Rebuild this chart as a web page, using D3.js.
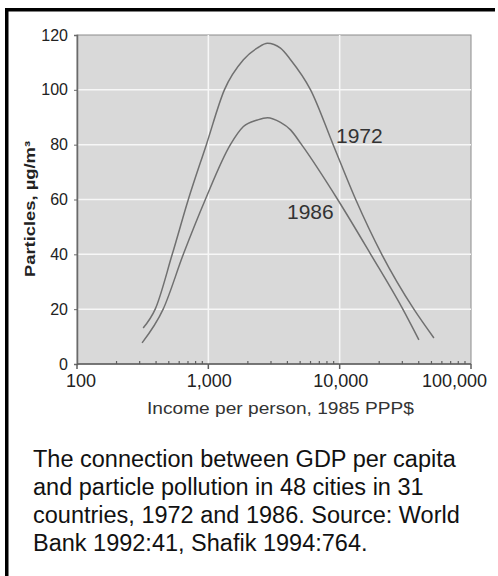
<!DOCTYPE html>
<html>
<head>
<meta charset="utf-8">
<script src="https://cdn.jsdelivr.net/npm/d3@7"></script>
<style>
  body { margin: 0; background: #fff; }
  #chart { width: 498px; height: 576px; }
  text { font-family: "Liberation Sans", Arial, Helvetica, sans-serif; }
</style>
</head>
<body>
<div id="chart"></div>
<script>
// curve readings (income in 1985 PPP$, particles in ug/m3)
const income1972 = [319, 394, 531, 704, 966, 1325, 1850, 2366, 2820, 3544, 4227, 6004, 8920, 13250, 20920, 36720, 52200];
const particles1972 = [13.1, 20, 40, 60, 80, 100, 111, 115.3, 117, 115.2, 111, 100, 80, 60, 40, 20, 9.5];
const income1986 = [313, 453, 645, 949, 1472, 1850, 2366, 2820, 3544, 4227, 5129, 9655, 17240, 30260, 40100];
const particles1986 = [7.7, 20, 40, 60, 80, 86.6, 89, 89.8, 88.1, 85.4, 80, 60, 40, 20, 8.8];

const yTicks = [0, 20, 40, 60, 80, 100, 120];
const xTicks = [100, 1000, 10000, 100000];
const xTickLabels = ['100', '1,000', '10,000', '100,000'];
const captionLines = [
  'The connection between GDP per capita',
  'and particle pollution in 48 cities in 31',
  'countries, 1972 and 1986. Source: World',
  'Bank 1992:41, Shafik 1994:764.'
];

var margin = { top: 35, right: 27, bottom: 212, left: 77 },
    width = 498 - margin.left - margin.right,
    height = 576 - margin.top - margin.bottom;

var svg0 = d3.select('#chart').append('svg')
    .attr('width', 498)
    .attr('height', 576);

// frame: thick line on top and left only
svg0.append('rect').attr('x', 5).attr('y', 8).attr('width', 490).attr('height', 3.5).attr('fill', '#000');
svg0.append('rect').attr('x', 5).attr('y', 8).attr('width', 3.5).attr('height', 568).attr('fill', '#000');

var svg = svg0.append('g')
    .attr('transform', 'translate(' + margin.left + ',' + margin.top + ')');

var x = d3.scaleLog().domain([100, 100000]).range([0, width]);
var y = d3.scaleLinear().domain([0, 120]).range([height, 0]);

// plot background
svg.append('rect')
    .attr('width', width).attr('height', height)
    .attr('fill', '#d9d9d9')
    .attr('stroke', '#8c8c8c').attr('stroke-width', 1);

// white grid
svg.selectAll('.hgrid').data(yTicks.filter(d => d > 0 && d < 120)).enter()
    .append('line')
    .attr('x1', 0).attr('x2', width)
    .attr('y1', d => y(d)).attr('y2', d => y(d))
    .attr('stroke', '#f7f7f7').attr('stroke-width', 1.5);
svg.selectAll('.vgrid').data([1000, 10000]).enter()
    .append('line')
    .attr('x1', d => x(d)).attr('x2', d => x(d))
    .attr('y1', 0).attr('y2', height)
    .attr('stroke', '#f7f7f7').attr('stroke-width', 1.5);

// curves
var line = d3.line()
    .x(d => x(d[0]))
    .y(d => y(d[1]))
    .curve(d3.curveMonotoneX);

svg.append('path')
    .datum(d3.zip(income1972, particles1972))
    .attr('d', line)
    .attr('fill', 'none').attr('stroke', '#707070').attr('stroke-width', 1.5);
svg.append('path')
    .datum(d3.zip(income1986, particles1986))
    .attr('d', line)
    .attr('fill', 'none').attr('stroke', '#707070').attr('stroke-width', 1.5);

svg.append('text').attr('x', 259).attr('y', 108).attr('font-size', 21).attr('fill', '#333').text('1972');
svg.append('text').attr('x', 210).attr('y', 184).attr('font-size', 21).attr('fill', '#333').text('1986');

// y axis
var yAxis = svg.append('g')
    .call(d3.axisLeft(y).tickValues(yTicks).tickSize(3).tickPadding(6));
yAxis.select('.domain').attr('stroke', '#6a6a6a').attr('stroke-width', 1.5);
yAxis.selectAll('.tick line').attr('stroke', '#6a6a6a');
yAxis.selectAll('.tick text').attr('font-size', 16).attr('fill', '#222')
    .style('font-family', '"Liberation Sans", Arial, sans-serif');

// x axis, minor ticks inside, major outside
var minor = [];
for (var dec = 100; dec < 100000; dec *= 10) {
  for (var k = 2; k <= 9; k++) minor.push(dec * k);
}
var xAxis = svg.append('g')
    .attr('transform', 'translate(0,' + height + ')');
xAxis.append('line').attr('x1', 0).attr('x2', width).attr('stroke', '#5e5e5e').attr('stroke-width', 1.5);
xAxis.selectAll('.minor').data(minor).enter()
    .append('line')
    .attr('x1', d => x(d)).attr('x2', d => x(d))
    .attr('y1', 0).attr('y2', -3)
    .attr('stroke', '#5e5e5e').attr('stroke-width', 1.2);
xAxis.selectAll('.major').data(xTicks).enter()
    .append('line')
    .attr('x1', d => x(d)).attr('x2', d => x(d))
    .attr('y1', 0).attr('y2', 5)
    .attr('stroke', '#5e5e5e').attr('stroke-width', 1.5);
xAxis.selectAll('.lab').data(xTicks).enter()
    .append('text')
    .attr('x', (d, i) => i == xTicks.length - 1 ? x(d) + 16 : x(d) + (i == 0 ? 4 : 1))
    .attr('y', 23)
    .attr('text-anchor', (d, i) => i == xTicks.length - 1 ? 'end' : 'middle')
    .attr('font-size', 18).attr('fill', '#222')
    .text((d, i) => xTickLabels[i]);

// axis titles
svg0.append('text')
    .attr('transform', 'translate(35,209) rotate(-90)')
    .attr('text-anchor', 'middle')
    .attr('font-size', 14).attr('font-weight', 'bold').attr('fill', '#222')
    .attr('textLength', 136).attr('lengthAdjust', 'spacingAndGlyphs')
    .text('Particles, µg/m³');
svg0.append('text')
    .attr('x', 147).attr('y', 414)
    .attr('font-size', 17).attr('fill', '#333')
    .attr('textLength', 267).attr('lengthAdjust', 'spacingAndGlyphs')
    .text('Income per person, 1985 PPP$');

// caption
svg0.selectAll('.cap').data(captionLines).enter()
    .append('text')
    .attr('x', 33)
    .attr('y', (d, i) => 467 + i * 28)
    .attr('font-size', 23.5).attr('fill', '#111')
    .text(d => d);
</script>
</body>
</html>
